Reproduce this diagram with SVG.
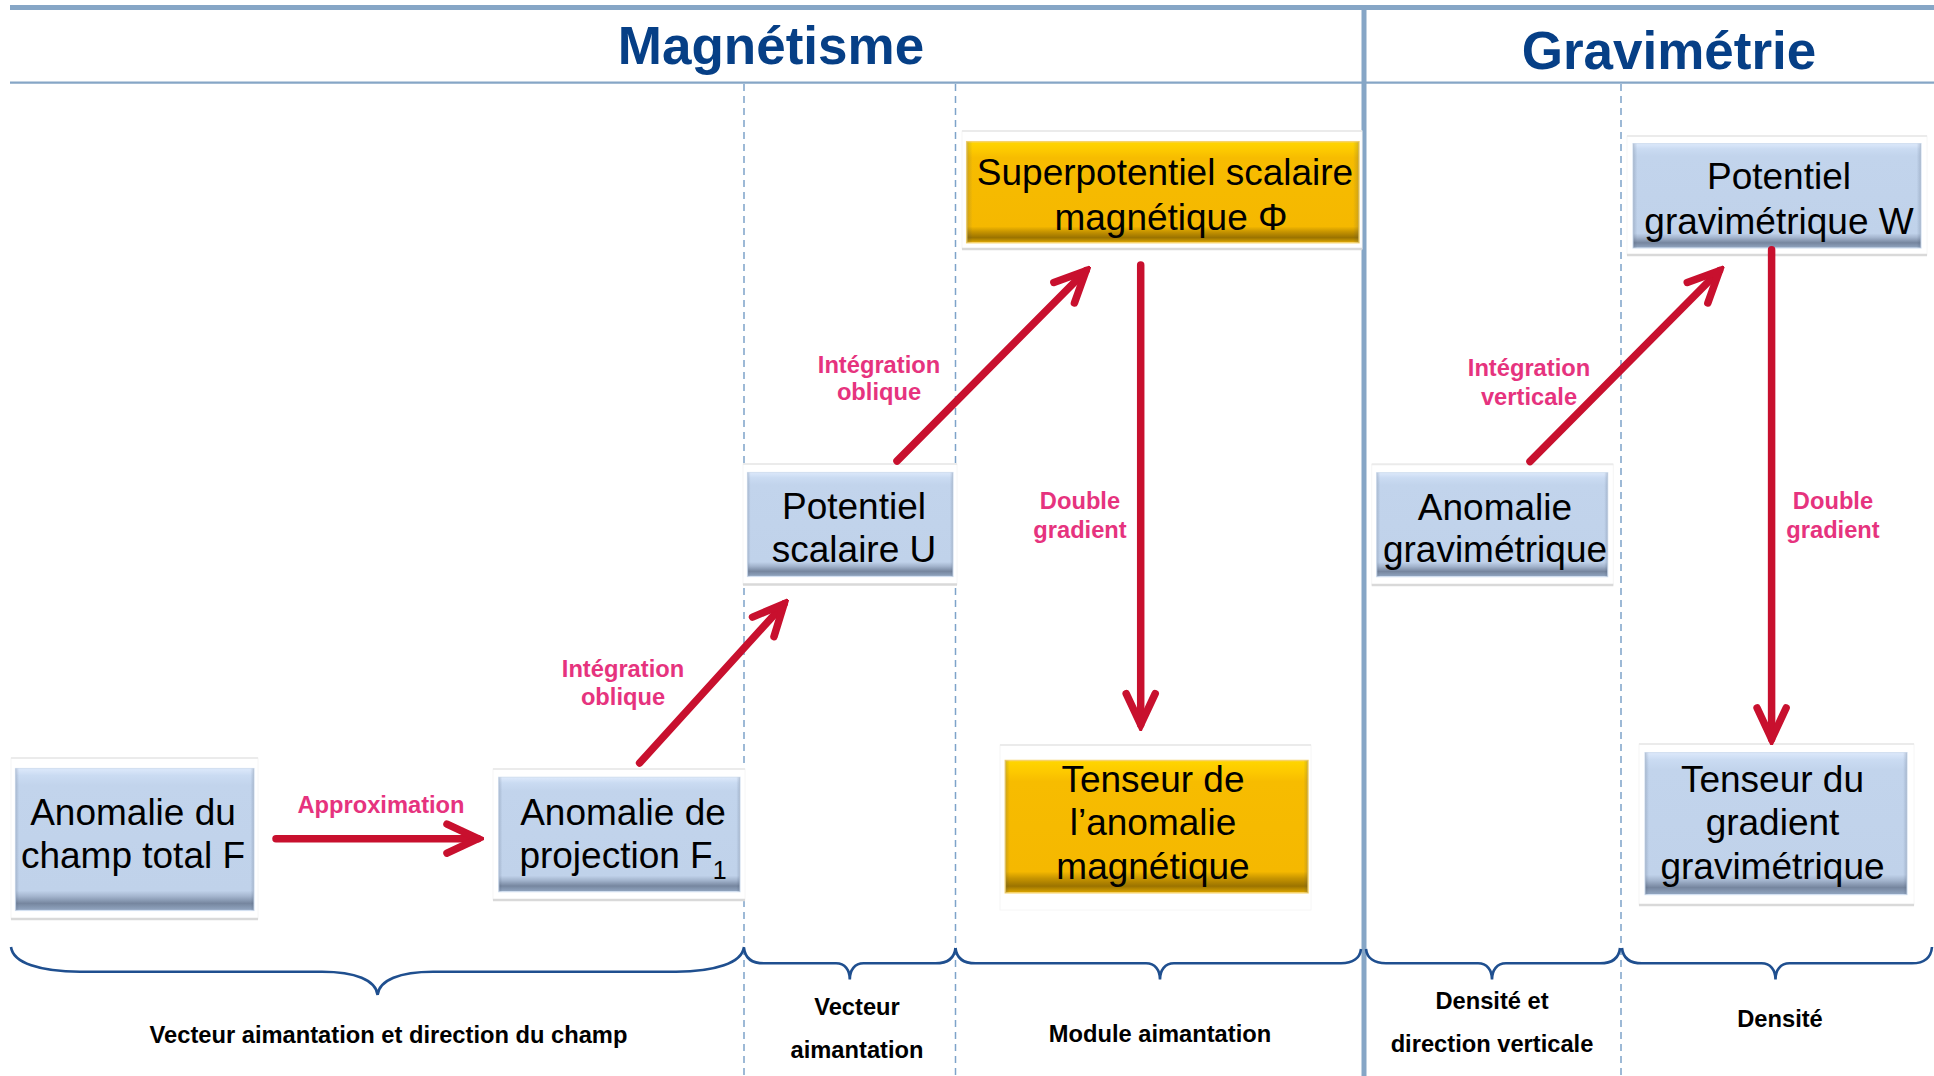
<svg xmlns="http://www.w3.org/2000/svg" width="1934" height="1076" viewBox="0 0 1934 1076">
<defs>
<linearGradient id="gb" x1="0" y1="0" x2="0" y2="1">
<stop offset="0" stop-color="#dde9fb"/>
<stop offset="0.05" stop-color="#cadbf2"/>
<stop offset="0.12" stop-color="#c2d4ec"/>
<stop offset="0.86" stop-color="#c0d2ea"/>
<stop offset="0.9" stop-color="#a4b5ce"/>
<stop offset="0.95" stop-color="#76869f"/>
<stop offset="1" stop-color="#93a7c2"/>
</linearGradient>
<linearGradient id="go" x1="0" y1="0" x2="0" y2="1">
<stop offset="0" stop-color="#ffd600"/>
<stop offset="0.08" stop-color="#fdca00"/>
<stop offset="0.16" stop-color="#f7bc00"/>
<stop offset="0.84" stop-color="#f5b800"/>
<stop offset="0.89" stop-color="#c89500"/>
<stop offset="0.95" stop-color="#9b7300"/>
<stop offset="1" stop-color="#e0a800"/>
</linearGradient>
<linearGradient id="gs" x1="0" y1="0" x2="1" y2="0">
<stop offset="0" stop-color="#3c4c66" stop-opacity="0.22"/>
<stop offset="0.015" stop-color="#3c4c66" stop-opacity="0"/>
<stop offset="0.985" stop-color="#3c4c66" stop-opacity="0"/>
<stop offset="1" stop-color="#3c4c66" stop-opacity="0.22"/>
</linearGradient>
<marker id="chev" viewBox="-40 -22 46 44" refX="0" refY="0" markerWidth="46" markerHeight="44" markerUnits="userSpaceOnUse" orient="auto">
<path d="M-31,-14.5 L0,0 L-31,14.5" fill="none" stroke="#c8102e" stroke-width="7.5" stroke-linecap="round" stroke-linejoin="miter"/>
</marker>
</defs>
<style>
.frame{fill:#ffffff;stroke:#f6f6f6;stroke-width:1}
.ftop{stroke:#ebebeb;stroke-width:2}
.fbot{stroke:#d9d9d9;stroke-width:2.5}
.bb{fill:url(#gb);stroke:#d3e0f1;stroke-width:1.2}
.bo{fill:url(#go);stroke:#f7d36a;stroke-width:1.5}
.side{fill:url(#gs)}
.nt{font-family:"Liberation Sans",Arial,sans-serif;font-size:37px;fill:#000;text-anchor:middle}
.title{font-family:"Liberation Sans",Arial,sans-serif;font-size:53px;font-weight:bold;fill:#063f86;text-anchor:middle}
.lbl{font-family:"Liberation Sans",Arial,sans-serif;font-size:23.7px;font-weight:bold;fill:#e6337e;text-anchor:middle}
.cap{font-family:"Liberation Sans",Arial,sans-serif;font-size:23.7px;font-weight:bold;fill:#000;text-anchor:middle}
.arr{fill:none;stroke:#c8102e;stroke-width:7.5;stroke-linecap:round;marker-end:url(#chev)}
.brace{fill:none;stroke:#1f4f8f;stroke-width:2.6}
.dash{stroke:#7ea3c9;stroke-width:1.5;stroke-dasharray:7 5}
.rule{stroke:#86a6c6}
</style>
<rect width="1934" height="1076" fill="#ffffff"/>

<g id="grid">
<line class="rule" x1="10" y1="7.5" x2="1934" y2="7.5" stroke-width="5"/>
<line class="rule" x1="10" y1="82.7" x2="1934" y2="82.7" stroke-width="2.2"/>
<line class="rule" x1="1364" y1="5" x2="1364" y2="1076" stroke-width="5"/>
<line class="dash" x1="744" y1="84" x2="744" y2="1076"/>
<line class="dash" x1="955.5" y1="84" x2="955.5" y2="1076"/>
<line class="dash" x1="1621" y1="84" x2="1621" y2="1076"/>
<text class="title" x="771" y="64">Magnétisme</text>
<text class="title" x="1669" y="68.5">Gravimétrie</text>
</g>

<g id="n1">
<rect class="frame" x="11" y="758" width="247" height="161"/>
<line class="ftop" x1="11" y1="758" x2="258" y2="758"/>
<line class="fbot" x1="11" y1="919" x2="258" y2="919"/>
<rect class="bb" x="15.5" y="768.5" width="238.5" height="142"/>
<rect class="side" x="15.5" y="768.5" width="238.5" height="142"/>
<text class="nt" x="133" y="824.5">Anomalie du</text>
<text class="nt" x="133" y="868">champ total F</text>
</g>

<g id="n2">
<rect class="frame" x="493" y="769" width="252" height="131"/>
<line class="ftop" x1="493" y1="769" x2="745" y2="769"/>
<line class="fbot" x1="493" y1="900" x2="745" y2="900"/>
<rect class="bb" x="498.7" y="777.3" width="241.3" height="114.4"/>
<rect class="side" x="498.7" y="777.3" width="241.3" height="114.4"/>
<text class="nt" x="623" y="825">Anomalie de</text>
<text class="nt" x="623" y="868.3">projection F<tspan font-size="25" dy="11">1</tspan></text>
</g>

<g id="n3">
<rect class="frame" x="743" y="464" width="214" height="120.5"/>
<line class="ftop" x1="743" y1="464" x2="957" y2="464"/>
<line class="fbot" x1="743" y1="584.5" x2="957" y2="584.5"/>
<rect class="bb" x="747.5" y="472.5" width="205.5" height="104"/>
<rect class="side" x="747.5" y="472.5" width="205.5" height="104"/>
<text class="nt" x="854" y="519">Potentiel</text>
<text class="nt" x="854" y="562">scalaire U</text>
</g>

<g id="n4">
<rect class="frame" x="962" y="131" width="400" height="118"/>
<line class="ftop" x1="962" y1="131" x2="1362" y2="131"/>
<line class="fbot" x1="962" y1="249" x2="1362" y2="249"/>
<rect class="bo" x="966.7" y="141.7" width="392.3" height="101"/>
<rect class="side" x="966.7" y="141.7" width="392.3" height="101"/>
<text class="nt" x="1165" y="185">Superpotentiel scalaire</text>
<text class="nt" x="1171" y="230">magnétique Φ</text>
</g>

<g id="n5">
<rect class="frame" x="1627" y="136" width="300" height="119"/>
<line class="ftop" x1="1627" y1="136" x2="1927" y2="136"/>
<line class="fbot" x1="1627" y1="255" x2="1927" y2="255"/>
<rect class="bb" x="1633" y="143.6" width="288" height="104.4"/>
<rect class="side" x="1633" y="143.6" width="288" height="104.4"/>
<text class="nt" x="1779" y="189">Potentiel</text>
<text class="nt" x="1779" y="234">gravimétrique W</text>
</g>

<g id="n6">
<rect class="frame" x="1371.7" y="464.3" width="241.6" height="120.7"/>
<line class="ftop" x1="1371.7" y1="464.3" x2="1613.3" y2="464.3"/>
<line class="fbot" x1="1371.7" y1="585" x2="1613.3" y2="585"/>
<rect class="bb" x="1376.7" y="472.7" width="231" height="104"/>
<rect class="side" x="1376.7" y="472.7" width="231" height="104"/>
<text class="nt" x="1495" y="520">Anomalie</text>
<text class="nt" x="1495" y="562">gravimétrique</text>
</g>

<g id="n7">
<rect class="frame" x="1000" y="745" width="311" height="165"/>
<line class="ftop" x1="1000" y1="745" x2="1311" y2="745"/>
<rect class="bo" x="1005.3" y="760.5" width="302.7" height="132.3"/>
<rect class="side" x="1005.3" y="760.5" width="302.7" height="132.3"/>
<text class="nt" x="1153" y="791.5">Tenseur de</text>
<text class="nt" x="1153" y="834.7">l’anomalie</text>
<text class="nt" x="1153" y="878.6">magnétique</text>
</g>

<g id="n8">
<rect class="frame" x="1639" y="744" width="275" height="161"/>
<line class="ftop" x1="1639" y1="744" x2="1914" y2="744"/>
<line class="fbot" x1="1639" y1="905" x2="1914" y2="905"/>
<rect class="bb" x="1645" y="752.6" width="262" height="142"/>
<rect class="side" x="1645" y="752.6" width="262" height="142"/>
<text class="nt" x="1772.5" y="791.5">Tenseur du</text>
<text class="nt" x="1772.5" y="834.7">gradient</text>
<text class="nt" x="1772.5" y="878.6">gravimétrique</text>
</g>

<g id="connectors">
<path class="arr" d="M276,838.7 L478,838.7"/>
<path class="arr" d="M639.6,763 L784.1,603.9"/>
<path class="arr" d="M897,461 L1086,270.7"/>
<path class="arr" d="M1140.7,265 L1140.7,724.6"/>
<path class="arr" d="M1530,461.5 L1719.4,270.7"/>
<path class="arr" d="M1771.6,249.7 L1771.6,739"/>
<text class="lbl" x="381" y="813">Approximation</text>
<text class="lbl" x="623" y="677">Intégration</text>
<text class="lbl" x="623" y="705">oblique</text>
<text class="lbl" x="879" y="373">Intégration</text>
<text class="lbl" x="879" y="400">oblique</text>
<text class="lbl" x="1529" y="376">Intégration</text>
<text class="lbl" x="1529" y="405">verticale</text>
<text class="lbl" x="1080" y="509">Double</text>
<text class="lbl" x="1080" y="538">gradient</text>
<text class="lbl" x="1833" y="509">Double</text>
<text class="lbl" x="1833" y="538">gradient</text>
</g>

<g id="braces">
<path class="brace" d="M11,947 C13,963 40,971.7 80,971.7 L322,971.7 C355,971.7 376,980 377.6,995 C379,980 400,971.7 433,971.7 L676,971.7 C715,971.7 742,963 744,947"/>
<path class="brace" d="M744,948 C745,958 752,963.3 764,963.3 L836,963.3 C845,963.3 849.8,970 849.8,979.5 C849.8,970 854.6,963.3 863.6,963.3 L935.5,963.3 C947.5,963.3 954.5,958 955.5,948"/>
<path class="brace" d="M955.5,948 C956.5,958 963.5,963.3 975.5,963.3 L1146,963.3 C1155,963.3 1160,970 1160,979.5 C1160,970 1165,963.3 1174,963.3 L1341,963.3 C1353,963.3 1360,958 1361,949"/>
<path class="brace" d="M1366,949 C1367,958 1374,963.3 1386,963.3 L1478,963.3 C1487,963.3 1492,970 1492,979.5 C1492,970 1497,963.3 1506,963.3 L1600,963.3 C1612,963.3 1619,958 1620,948"/>
<path class="brace" d="M1622,948 C1623,958 1630,963.3 1642,963.3 L1761.5,963.3 C1770.5,963.3 1775.5,970 1775.5,979.5 C1775.5,970 1780.5,963.3 1789.5,963.3 L1912,963.3 C1924,963.3 1931,958 1932,947"/>
<text class="cap" x="388.5" y="1043">Vecteur aimantation et direction du champ</text>
<text class="cap" x="857" y="1015">Vecteur</text>
<text class="cap" x="857" y="1058">aimantation</text>
<text class="cap" x="1160" y="1041.5">Module aimantation</text>
<text class="cap" x="1492" y="1009">Densité et</text>
<text class="cap" x="1492" y="1052">direction verticale</text>
<text class="cap" x="1780" y="1027">Densité</text>
</g>
</svg>
